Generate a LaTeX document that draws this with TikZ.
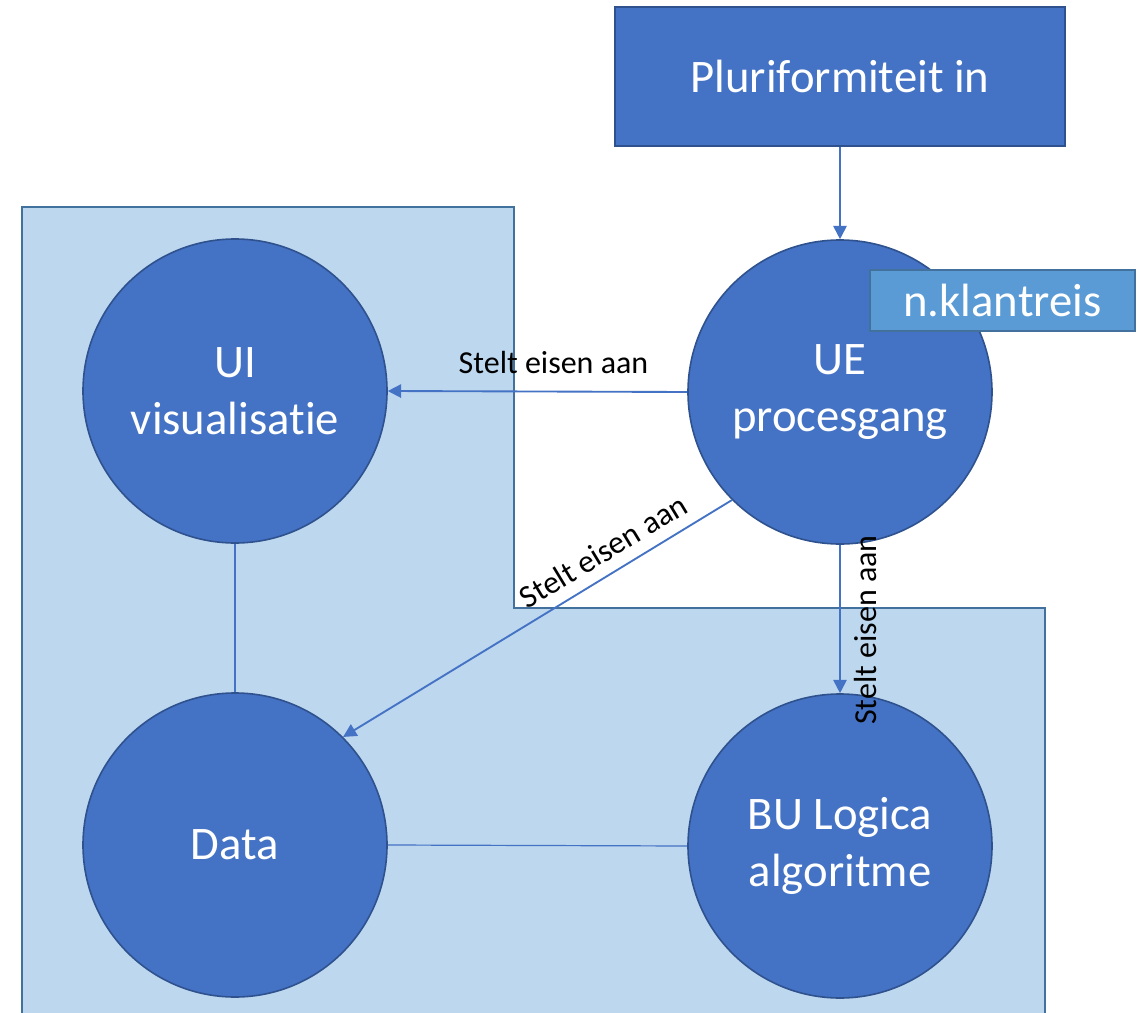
\documentclass[tikz,border=0pt]{standalone}
\usepackage{fontspec}
\setmainfont{Carlito}[Ligatures=NoCommon]
\usetikzlibrary{arrows.meta}
\definecolor{cblue}{HTML}{4472C4}
\definecolor{cedge}{HTML}{2F528F}
\definecolor{lblue}{HTML}{BDD7EE}
\definecolor{ledge}{HTML}{41719C}
\definecolor{mblue}{HTML}{5B9BD5}
\begin{document}
\begin{tikzpicture}[x=0.75pt,y=-0.75pt,
  bigc/.style={circle, fill=cblue, draw=cedge, line width=1.2pt, minimum size=228pt, inner sep=0pt, text=white, align=center, font=\fontsize{35}{43}\selectfont},
  boxnode/.style={rectangle, line width=1.2pt, inner sep=0pt, text=white, font=\fontsize{35}{43}\selectfont},
  arr/.style={draw=cblue, line width=1.4pt, -{Triangle[length=10pt,width=10pt]}},
  plainline/.style={draw=cblue, line width=0.9pt},
  lbl/.style={font=\fontsize{24}{28}\selectfont, text=black, inner sep=0pt}]
\useasboundingbox (0,0) rectangle (1143,1013);
\fill[white] (0,0) rectangle (1143,1013);
% light region
\draw[fill=lblue, draw=ledge, line width=1.5pt] (22,207) -- (514,207) -- (514,608) -- (1045,608) -- (1045,1018) -- (22,1018) -- cycle;
% nodes
\node[boxnode, fill=cblue, draw=cedge, minimum width=337.5pt, minimum height=104.25pt] (top) at (840,76.5) {Pluriformiteit in};
\node[bigc] (ui) at (235,391) {UI\\visualisatie};
\node[bigc] (ue) at (840,392) {UE\\procesgang};
\node[bigc] (data) at (235,845) {Data};
\node[bigc] (bu) at (840,846) {BU Logica\\algoritme};
\node[boxnode, fill=mblue, draw=ledge, minimum width=198.75pt, minimum height=45.75pt] (klant) at (1002.5,300.5) {n.klantreis};
% connectors
\draw[arr] (top.south) -- (ue.north);
\draw[arr] (ue.west) -- (ui.east);
\draw[arr] (ue.south west) -- (data.north east);
\draw[arr] (ue.south) -- (bu.north);
\draw[plainline] (ui.south) -- (data.north);
\draw[plainline] (data.east) -- (bu.west);
% labels
\node[lbl, anchor=base] (l1) at (553.5,373) {Stelt eisen aan};
\node[lbl, rotate=31.2] (l2) at (603,551) {Stelt eisen aan};
\node[lbl, rotate=90] (l3) at (865,630) {Stelt eisen aan};
\end{tikzpicture}
\end{document}
